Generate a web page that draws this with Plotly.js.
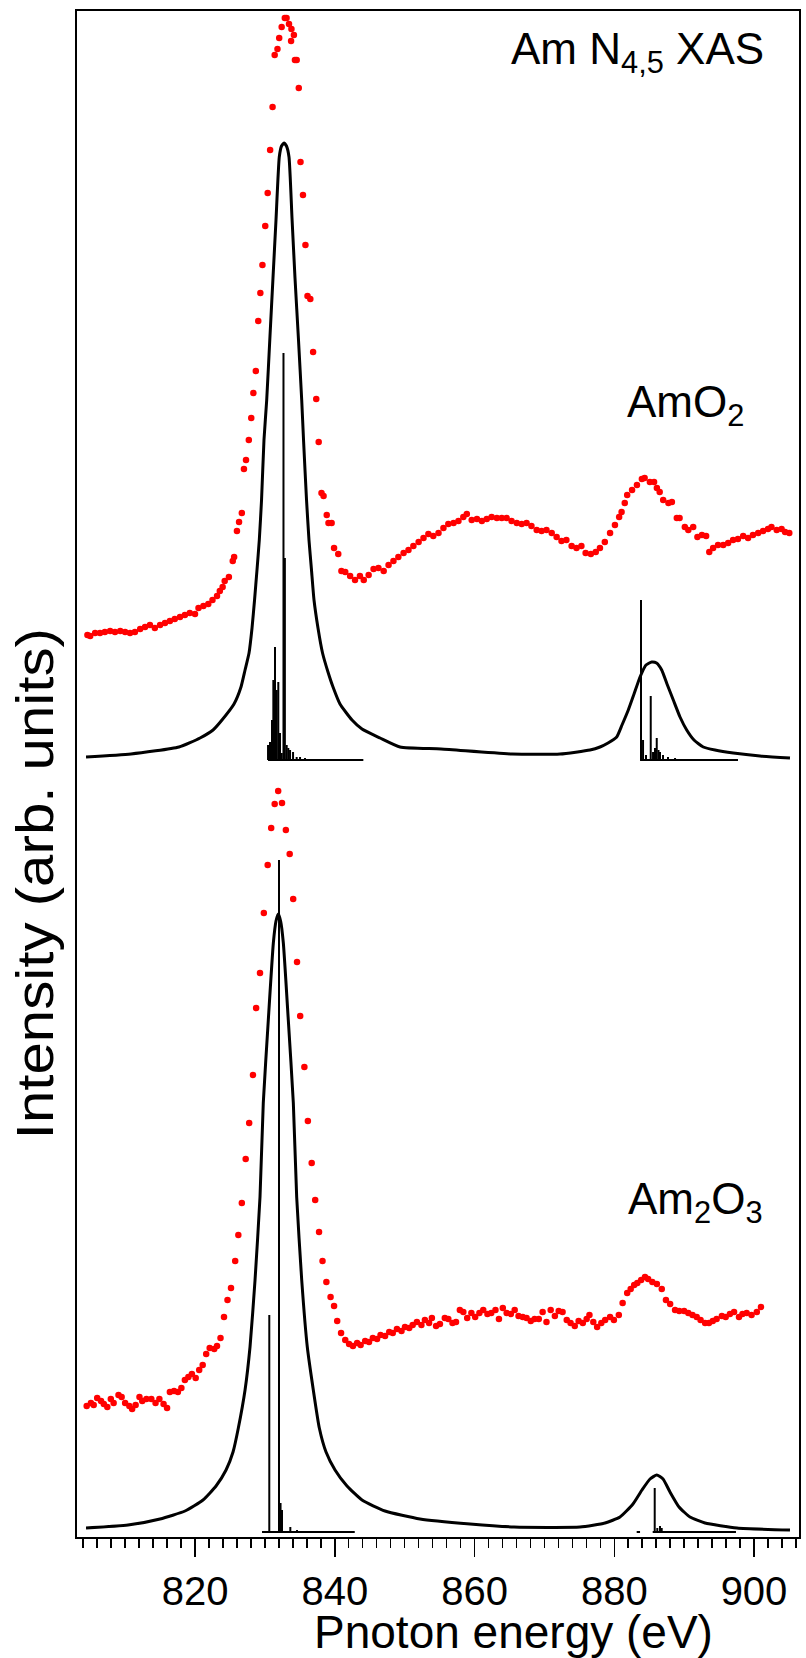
<!DOCTYPE html>
<html><head><meta charset="utf-8">
<script src="https://cdn.plot.ly/plotly-3.0.1.min.js"></script>
<style>html,body{margin:0;padding:0;background:#fff;}#chart{width:806px;height:1658px;}</style>
</head><body><div id="chart"></div>
<script>
// ---- AmO2 experimental XAS (red dots) ----
const amo2Energy = [804.6,805.0,805.7,806.4,807.1,807.85,808.55,809.3,810.0,810.7,811.4,812.15,812.85,813.55,814.25,815.0,815.7,816.4,817.1,817.85,818.55,819.25,820.0,820.5,821.2,821.9,822.5,823.15,823.55,823.95,824.25,824.85,825.4,825.6,826.0,826.3,826.7,827.0,827.3,827.7,828.05,828.35,828.7,829.05,829.35,829.65,830.05,830.4,830.75,831.1,831.4,831.8,832.05,832.4,832.85,833.1,833.45,833.75,833.8,834.15,834.3,834.55,834.85,835.1,835.45,835.8,836.1,836.5,836.9,837.35,837.7,838.1,838.4,838.85,839.1,839.55,839.9,840.5,840.95,841.5,842.2,842.9,843.6,844.15,844.85,845.55,846.25,847.0,847.7,848.4,849.1,849.85,850.55,851.25,852.0,852.7,853.4,854.1,854.85,855.55,856.25,857.0,857.7,858.4,858.9,859.6,860.35,861.05,861.75,862.45,863.2,863.9,864.6,865.3,866.05,866.75,867.45,868.15,868.9,869.6,870.3,871.05,871.75,872.45,873.15,873.9,874.6,875.3,875.9,876.65,877.35,877.95,878.65,879.4,880.1,880.7,881.05,881.5,881.85,882.55,883.25,883.95,884.35,885.1,885.7,886.1,886.5,887.0,887.75,888.25,888.95,889.35,890.1,890.6,891.3,891.9,892.55,893.15,893.6,894.15,894.85,895.6,896.3,897.0,897.7,898.45,899.15,899.85,900.6,901.3,902.0,902.5,903.25,903.95,904.45,905.05];
const amo2Intensity = [902,901,904,904,905,906,905,906,905,904,905,908,910,912,909,912,914,916,918,920,922,924,923,929,931,933,937,941,946,950,956,960,976,980,1006,1015,1024,1068,1077,1097,1119,1144,1166,1216,1244,1272,1311,1344,1387,1430,1482,1488,1499,1510,1519,1519,1513,1496,1508,1502,1477,1477,1449,1375,1342,1292,1241,1238,1185,1138,1095,1044,1041,1022,1014,1014,989,983,966,965,961,957,961,957,962,968,969,966,972,976,980,984,987,991,995,999,1003,1001,1004,1009,1013,1014,1016,1020,1023,1017,1018,1016,1018,1020,1019,1019,1019,1016,1014,1013,1014,1011,1007,1006,1007,1004,1000,996,997,991,989,991,984,983,985,989,995,1004,1012,1020,1025,1034,1042,1047,1052,1058,1059,1055,1055,1049,1045,1037,1034,1035,1019,1019,1010,1007,1010,1000,1002,1001,985,989,992,992,994,997,998,1001,999,1002,1004,1006,1008,1010,1007,1008,1005,1004];

// ---- Am2O3 experimental XAS (red dots) ----
const am2o3Energy = [804.5,805.1,805.5,806.0,806.55,806.95,807.45,807.95,808.35,809.05,809.5,810.0,810.6,811.0,811.5,812.05,812.45,813.05,813.75,814.35,814.9,815.5,816.0,816.4,817.0,817.55,818.05,818.55,819.05,819.55,820.1,820.6,821.1,821.6,822.1,822.75,823.15,823.65,824.15,824.65,825.15,825.75,826.2,826.7,827.25,827.75,828.3,828.75,829.3,829.85,830.4,830.9,831.4,831.9,832.45,833.0,833.55,834.05,834.6,835.05,835.65,836.15,836.7,837.2,837.75,838.25,838.8,839.4,839.9,840.35,840.9,841.5,842.05,842.6,843.2,843.7,844.35,844.9,845.45,846.05,846.55,847.2,847.8,848.3,848.9,849.55,850.05,850.65,851.15,851.75,852.4,852.9,853.5,853.9,854.5,855.05,855.75,856.25,856.85,857.35,857.9,858.4,858.95,859.55,860.1,860.7,861.25,861.85,862.4,863.0,863.5,864.05,864.6,865.2,865.75,866.3,866.9,867.45,868.05,868.6,869.2,869.75,870.3,870.9,871.5,872.05,872.6,873.2,873.75,874.35,874.9,875.5,876.05,876.45,877.0,877.55,878.15,878.7,879.4,879.95,880.65,881.2,881.85,882.35,882.85,883.3,883.85,884.4,884.85,885.45,886.1,886.8,887.4,888.0,888.7,889.3,890.0,890.6,891.2,891.8,892.35,893.0,893.55,894.1,894.65,895.4,895.95,896.55,897.15,897.85,898.35,898.95,899.65,900.4,901.0];
const am2o3Intensity = [131,134,132,139,136,133,130,138,134,142,140,134,131,128,132,140,136,138,138,134,138,133,129,145,146,145,149,157,160,163,159,167,172,183,189,188,191,199,220,237,249,276,302,334,378,414,462,529,564,624,672,709,733,746,734,707,683,638,575,521,470,416,374,337,305,276,255,240,231,216,204,197,193,191,194,192,196,195,199,198,202,201,205,204,208,206,210,209,212,215,212,217,214,219,211,213,219,218,214,215,227,225,219,224,220,224,227,223,224,227,218,229,224,223,227,221,220,219,216,218,218,225,215,227,221,226,225,217,214,211,216,214,218,222,215,210,214,217,220,217,222,234,244,248,252,254,257,260,258,255,253,248,237,233,227,226,226,224,222,220,217,214,214,216,218,221,220,223,225,220,223,224,222,225,230];

// ---- calculated spectra (black lines) ----
const amo2CalcEnergy = [804.4,810.84,817.71,820.72,822.58,823.86,825.58,826.58,827.16,827.73,828.16,828.52,828.87,829.2,829.52,829.87,830.26,830.73,831.16,831.59,832.06,832.38,832.74,833.09,833.45,833.88,834.31,834.81,835.27,835.53,835.96,836.31,836.67,837.03,837.6,838.25,839.03,839.75,840.75,842.47,843.9,846.48,849.34,855.21,865.37,872.24,876.53,877.96,879.11,880.35,881.11,882.01,882.83,883.69,884.54,885.36,886.05,886.79,887.55,888.45,889.41,890.37,891.41,892.74,894.42,897.04,900.86,905.15];
const amo2CalcIntensity = [780,783,790,799,807,817,833,850,867,884,909,937,967,997,1037,1097,1137,1201,1259,1317,1380,1391,1394,1391,1380,1319,1259,1197,1137,1097,1037,997,967,937,909,884,865,850,833,817,808,799,790,788,783,783,787,790,794,800,812,827,843,860,872,875,874,867,853,837,820,807,797,790,787,784,781,779];
const am2o3CalcEnergy = [804.4,810.41,814.99,818.57,821.14,823.01,824.44,825.44,826.2,827.16,827.87,828.59,829.3,829.77,830.49,831.21,831.59,831.92,832.25,832.64,833.35,834.07,834.55,835.27,836.07,836.93,837.79,838.75,840.04,841.75,843.9,847.19,852.2,859.36,865.65,875.1,878.68,880.82,882.68,883.97,885.12,886.08,886.98,887.98,889.27,890.84,892.99,897.57,905.15];
const am2o3CalcIntensity = [9,12,18,26,37,51,67,85,109,147,190,257,340,434,517,594,616,623,616,594,517,434,340,257,190,147,109,85,67,51,37,26,18,13,10,10,14,20,33,47,58,62,58,45,30,20,14,9,7];

// ---- stick spectra ----
const amo2StickBase = 777;
const amo2N5StickE = [830.45,830.73,831.02,831.21,831.45,831.69,831.92,832.16,832.41,832.66,832.86,833.12,833.35,833.6,834.03,834.55,835.03,835.74,844.09];
const amo2N5StickI = [792,795,817,857,890,847,855,804,784,1184,979,792,789,787,785,780,780,779,777];
const amo2N4StickE = [883.69,883.83,884.12,884.54,885.22,885.55,885.83,886.08,886.33,886.55,886.98,887.69,888.7,890.84,897.71];
const amo2N4StickI = [777,937,797,782,841,785,789,799,787,785,782,780,779,778,777];
const am2o3StickBase = 5;
const am2o3N5StickE = [829.59,830.63,832.02,832.24,832.45,833.64,834.6,842.86];
const am2o3N5StickI = [5,222,677,34,27,10,7,5];
const am2o3PreStickE = [883.21,883.69];
const am2o3PreStickI = [5,5];
const am2o3N4StickE = [885.5,885.79,886.16,886.55,886.79,897.42];
const am2o3N4StickI = [5,49,9,11,9,5];

const xTickVals = [820,840,860,880,900];
const xTickText = ['820','840','860','880','900'];

function sticks(E, I, base) {
  const xs = [], ys = [];
  for (let i = 0; i < E.length; i++) { xs.push(E[i], E[i], null); ys.push(base, I[i], null); }
  xs.push(E[0], E[E.length - 1]); ys.push(base, base);
  return {x: xs, y: ys, type: 'scatter', mode: 'lines', line: {color: '#000', width: 2}, hoverinfo: 'skip', showlegend: false};
}

const red = '#ff0000';
const traces = [
  {x: amo2Energy, y: amo2Intensity, type: 'scatter', mode: 'markers', marker: {color: red, size: 6.5}, showlegend: false},
  {x: am2o3Energy, y: am2o3Intensity, type: 'scatter', mode: 'markers', marker: {color: red, size: 6.5}, showlegend: false},
  {x: amo2CalcEnergy, y: amo2CalcIntensity, type: 'scatter', mode: 'lines', line: {color: '#000', width: 3, shape: 'spline', smoothing: 0.5}, showlegend: false},
  {x: am2o3CalcEnergy, y: am2o3CalcIntensity, type: 'scatter', mode: 'lines', line: {color: '#000', width: 3, shape: 'spline', smoothing: 0.5}, showlegend: false},
  sticks(amo2N5StickE, amo2N5StickI, amo2StickBase),
  sticks(amo2N4StickE, amo2N4StickI, amo2StickBase),
  sticks(am2o3N5StickE, am2o3N5StickI, am2o3StickBase),
  sticks(am2o3PreStickE, am2o3PreStickI, am2o3StickBase),
  sticks(am2o3N4StickE, am2o3N4StickI, am2o3StickBase)
];

const font = 'Arial, "Liberation Sans", Helvetica, sans-serif';
const layout = {
  width: 806, height: 1658,
  margin: {l: 77, r: 7, t: 11, b: 121},
  paper_bgcolor: '#fff', plot_bgcolor: '#fff',
  font: {family: font, color: '#000'},
  showlegend: false,
  xaxis: {
    range: [803.11, 906.44], showgrid: false, zeroline: false,
    showline: true, linecolor: '#000', linewidth: 2, mirror: true,
    ticks: 'outside', ticklen: 18, tickwidth: 1.5, tickcolor: '#000',
    tickvals: xTickVals, ticktext: xTickText,
    tickfont: {family: font, size: 40, color: '#000'},
    minor: {tick0: 800, dtick: 2, ticks: 'outside', ticklen: 9, tickwidth: 1.5, tickcolor: '#000', showgrid: false}
  },
  yaxis: {
    range: [0, 1526], showgrid: false, zeroline: false,
    showline: true, linecolor: '#000', linewidth: 2, mirror: true,
    ticks: '', showticklabels: false
  },
  annotations: [
    {text: 'Pnoton energy (eV)', xref: 'paper', yref: 'paper', x: 0.6046, y: -0.0623, xanchor: 'center', yanchor: 'middle', showarrow: false, font: {family: font, size: 46, color: '#000'}},
    {text: 'Intensity (arb. units)', xref: 'paper', yref: 'paper', x: -0.0582, y: 0.4286, xanchor: 'center', yanchor: 'middle', textangle: -90, showarrow: false, font: {family: font, size: 52, color: '#000'}},
    {text: 'Am N<sub>4,5</sub> XAS', xref: 'paper', yref: 'paper', x: 0.954, y: 0.9731, xanchor: 'right', yanchor: 'middle', showarrow: false, font: {family: font, size: 44, color: '#000'}},
    {text: 'AmO<sub>2</sub>', xref: 'paper', yref: 'paper', x: 0.9266, y: 0.742, xanchor: 'right', yanchor: 'middle', showarrow: false, font: {family: font, size: 44, color: '#000'}},
    {text: 'Am<sub>2</sub>O<sub>3</sub>', xref: 'paper', yref: 'paper', x: 0.953, y: 0.2195, xanchor: 'right', yanchor: 'middle', showarrow: false, font: {family: font, size: 44, color: '#000'}}
  ]
};

Plotly.newPlot('chart', traces, layout, {staticPlot: true, displayModeBar: false}).then(function (gd) {
  // the reference's axis label is drawn elongated along its length
  const anns = gd.querySelectorAll('.annotation');
  if (anns.length > 1) {
    const t = anns[1].querySelector('text.annotation-text');
    if (t) {
      const bb = t.getBBox();
      const cx = bb.x + bb.width / 2, cy = bb.y + bb.height / 2;
      const prev = t.getAttribute('transform') || '';
      t.setAttribute('transform', prev + ' translate(' + cx + ',' + cy + ') scale(1.12,1) translate(' + (-cx) + ',' + (-cy) + ')');
    }
  }
});
</script></body></html>
